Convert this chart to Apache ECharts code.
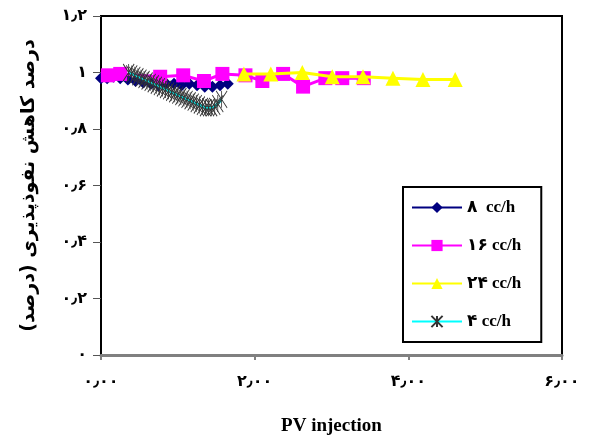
<!DOCTYPE html>
<html>
<head>
<meta charset="utf-8">
<script src="https://cdn.jsdelivr.net/npm/echarts@6/dist/echarts.min.js"></script>
<style>
  html, body { margin: 0; padding: 0; background: #fff; }
  #main { width: 594px; height: 441px; }
</style>
</head>
<body>
<div id="main"></div>
<script>
// series names (legend order)
var names = ['۸  cc/h', '۱۶ cc/h', '۲۴ cc/h', '۴ cc/h'];

// 8 cc/h
var pv8  = [0.00, 0.08, 0.16, 0.25, 0.35, 0.45, 0.55, 0.65, 0.75, 0.85, 0.95, 1.05, 1.15, 1.25, 1.35, 1.45, 1.55, 1.65];
var val8 = [0.98, 0.98, 0.985, 0.98, 0.975, 0.97, 0.965, 0.96, 0.955, 0.96, 0.96, 0.955, 0.96, 0.955, 0.95, 0.95, 0.955, 0.96];

// 16 cc/h
var pv16  = [0.09, 0.25, 0.77, 1.07, 1.34, 1.58, 1.88, 2.10, 2.37, 2.63, 2.92, 3.14, 3.42];
var val16 = [0.99, 0.995, 0.985, 0.99, 0.97, 0.995, 0.99, 0.97, 0.995, 0.95, 0.98, 0.98, 0.98];

// 24 cc/h
var pv24  = [1.86, 2.21, 2.62, 3.01, 3.41, 3.80, 4.19, 4.61];
var val24 = [0.995, 0.995, 1.0, 0.985, 0.985, 0.98, 0.975, 0.975];

// 4 cc/h
var pv4  = [0.36, 0.40, 0.44, 0.48, 0.52, 0.56, 0.60, 0.64, 0.68, 0.72, 0.76, 0.80, 0.84, 0.88, 0.92, 0.96, 1.00,
            1.04, 1.08, 1.12, 1.16, 1.20, 1.24, 1.28, 1.32, 1.36, 1.40, 1.44, 1.48, 1.52, 1.57];
var val4 = [1.0, 0.995, 0.99, 0.985, 0.98, 0.975, 0.97, 0.965, 0.96, 0.955, 0.95, 0.945, 0.94, 0.935, 0.93, 0.925, 0.92,
            0.915, 0.91, 0.905, 0.90, 0.895, 0.89, 0.885, 0.88, 0.875, 0.875, 0.875, 0.88, 0.89, 0.905];

// tick labels
var xTicks = [0, 2, 4, 6];
var xTickLabels = ['۰٫۰۰', '۲٫۰۰', '۴٫۰۰', '۶٫۰۰'];
var yTicks = [0, 0.2, 0.4, 0.6, 0.8, 1, 1.2];
var yTickLabels = ['۰', '۰٫۲', '۰٫۴', '۰٫۶', '۰٫۸', '۱', '۱٫۲'];

var xName = 'PV injection';
var yName = 'درصد کاهش نفوذپذیری (درصد)';

function pairs(xs, ys) {
    var out = [];
    for (var i = 0; i < xs.length; i++) out.push([xs[i], ys[i]]);
    return out;
}
function lookup(ticks, labels, v) {
    for (var i = 0; i < ticks.length; i++) {
        if (Math.abs(ticks[i] - v) < 1e-6) return labels[i];
    }
    return '';
}

var starPath = 'path://M0,0L10,20M10,0L0,20M5,0L5,20';

var myChart = echarts.init(document.getElementById('main'));
var option = {
    backgroundColor: '#fff',
    animation: false,
    grid: {
        left: 101,
        right: 32,
        top: 16,
        bottom: 82,
        show: true,
        borderColor: '#000',
        borderWidth: 2
    },
    legend: {
        orient: 'vertical',
        left: 403,
        top: 187,
        data: names,
        backgroundColor: '#fff',
        borderColor: '#000',
        borderWidth: 2,
        borderRadius: 0,
        padding: [12, 20, 12, 8],
        itemGap: 21,
        itemWidth: 50,
        itemHeight: 14,
        textStyle: {
            fontFamily: 'Liberation Serif, DejaVu Sans',
            fontWeight: 'bold',
            fontSize: 17,
            color: '#000'
        }
    },
    xAxis: {
        type: 'value',
        min: 0,
        max: 6,
        interval: 2,
        name: xName,
        nameLocation: 'middle',
        nameGap: 62,
        nameTextStyle: {
            fontFamily: 'Liberation Serif',
            fontWeight: 'bold',
            fontSize: 19,
            color: '#000'
        },
        axisLine: { onZero: false, lineStyle: { color: '#808080', width: 3 } },
        axisTick: { length: 5, lineStyle: { color: '#808080', width: 2 } },
        axisLabel: {
            margin: 19,
            fontFamily: 'DejaVu Sans',
            fontWeight: 'bold',
            fontSize: 16,
            color: '#000',
            formatter: function (v) { return lookup(xTicks, xTickLabels, v); }
        },
        splitLine: { show: false }
    },
    yAxis: {
        type: 'value',
        min: 0,
        max: 1.2,
        interval: 0.2,
        name: yName,
        nameLocation: 'middle',
        nameGap: 62,
        nameTextStyle: {
            fontFamily: 'DejaVu Sans',
            fontWeight: 'bold',
            fontSize: 19,
            color: '#000'
        },
        axisLine: { show: true, lineStyle: { color: '#000', width: 2 } },
        axisTick: { show: true, length: 8, lineStyle: { color: '#555', width: 1 } },
        axisLabel: {
            margin: 14,
            fontFamily: 'DejaVu Sans',
            fontWeight: 'bold',
            fontSize: 16,
            color: '#000',
            formatter: function (v) { return lookup(yTicks, yTickLabels, v); }
        },
        splitLine: { show: false }
    },
    series: [{
        name: names[0],
        type: 'line',
        data: pairs(pv8, val8),
        symbol: 'diamond',
        symbolSize: 12,
        itemStyle: { color: '#000080' },
        lineStyle: { color: '#000080', width: 3 },
        z: 2
    }, {
        name: names[1],
        type: 'line',
        data: pairs(pv16, val16),
        symbol: 'rect',
        symbolSize: 14,
        itemStyle: { color: '#FF00FF' },
        lineStyle: { color: '#FF00FF', width: 3 },
        z: 3
    }, {
        name: names[2],
        type: 'line',
        data: pairs(pv24, val24),
        symbol: 'triangle',
        symbolSize: 15,
        itemStyle: { color: '#FFFF00' },
        lineStyle: { color: '#FFFF00', width: 3 },
        z: 4
    }, {
        name: names[3],
        type: 'line',
        data: pairs(pv4, val4),
        symbol: starPath,
        symbolSize: [11, 17],
        itemStyle: { color: 'rgba(0,0,0,0)', borderColor: '#333', borderWidth: 1 },
        lineStyle: { color: '#00FFFF', width: 3 },
        z: 5
    }]
};
myChart.setOption(option);
</script>
</body>
</html>
